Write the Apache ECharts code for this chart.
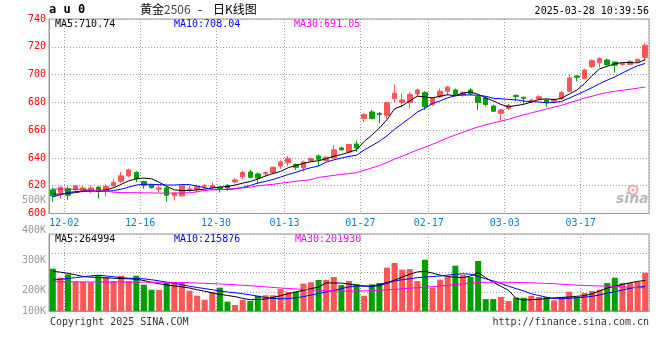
<!DOCTYPE html>
<html><head><meta charset="utf-8">
<script src="https://cdn.jsdelivr.net/npm/echarts@6/dist/echarts.min.js"></script>
<style>html,body{margin:0;padding:0;background:#fff}#c{width:660px;height:360px}</style>
</head><body><div id="c"></div>
<script>
// ---------- data ----------
const dates = ['11-29','12-02','12-03','12-04','12-05','12-06','12-09','12-10','12-11','12-12',
'12-13','12-16','12-17','12-18','12-19','12-20','12-23','12-24','12-25','12-26',
'12-27','12-30','12-31','01-02','01-03','01-06','01-07','01-08','01-09','01-10',
'01-13','01-14','01-15','01-16','01-17','01-20','01-21','01-22','01-23','01-24',
'01-27','02-05','02-06','02-07','02-10','02-11','02-12','02-13','02-14','02-17',
'02-18','02-19','02-20','02-21','02-24','02-25','02-26','02-27','02-28','03-03',
'03-04','03-05','03-06','03-07','03-10','03-11','03-12','03-13','03-14','03-17',
'03-18','03-19','03-20','03-21','03-24','03-25','03-26','03-27','03-28'];
const labelDates = ['12-02','12-16','12-30','01-13','01-27','02-17','03-03','03-17'];

const opens = [617.0,615.1,617.9,617.0,616.5,616.0,618.9,616.5,619.9,623.2,
627.1,629.5,623.0,620.6,617.5,618.4,612.7,612.7,617.2,617.5,
619.6,618.9,618.9,620.3,622.7,626.6,629.9,628.5,628.5,629.4,
634.2,636.6,635.2,632.8,638.1,641.4,638.1,640.0,647.2,644.3,
650.1,668.3,673.1,672.1,670.7,682.7,679.8,679.8,686.0,687.0,
678.4,684.1,688.0,688.9,685.1,688.9,684.1,683.2,677.4,672.1,
675.5,685.1,683.7,680.3,682.7,681.7,680.8,682.7,688.0,699.0,
697.1,705.7,708.6,710.5,709.1,707.2,707.2,709.5,712.4];
const closes = [612.7,618.9,613.1,619.9,618.4,618.4,616.0,619.4,622.3,627.1,
631.4,625.1,620.3,618.7,618.4,613.1,614.6,619.9,617.7,619.4,
620.1,620.3,617.9,618.4,624.2,629.5,626.1,625.6,629.4,633.3,
637.1,639.5,633.3,637.1,639.5,639.0,640.5,645.8,645.8,649.6,
647.2,671.2,668.3,671.2,679.8,686.5,681.7,685.6,688.9,676.9,
682.7,688.0,690.9,685.1,687.0,686.1,679.8,678.4,673.6,674.5,
677.9,684.1,682.7,681.7,684.1,679.8,681.7,687.0,697.6,698.0,
703.3,710.0,711.5,707.2,706.7,708.1,709.5,711.0,721.1];
const lows = [608.6,610.7,609.8,616.0,615.1,614.6,610.7,612.2,618.9,621.8,
626.1,622.7,617.9,617.9,615.1,608.6,609.3,612.2,615.5,615.1,
617.9,617.9,615.1,616.5,621.8,624.6,625.1,621.3,626.6,628.5,
632.3,634.2,631.4,630.4,637.1,634.2,637.6,639.5,645.3,643.4,
644.3,665.9,667.8,664.9,668.3,679.8,676.4,675.5,684.1,674.5,
677.4,683.2,685.1,684.6,684.1,685.1,674.5,676.9,673.1,666.9,
674.5,680.8,678.9,679.8,681.7,676.5,679.8,681.7,687.5,695.2,
696.6,704.8,705.2,706.2,701.4,706.2,706.7,708.1,710.5];
const highs = [618.7,619.4,619.4,620.6,620.3,620.3,619.9,621.3,624.6,629.9,
632.3,630.4,623.7,621.3,620.3,619.4,615.5,620.3,619.9,620.3,
621.3,622.3,619.4,621.3,625.6,630.9,631.4,629.4,630.4,633.8,
638.1,641.4,636.1,638.1,640.5,642.4,641.4,649.3,648.1,650.1,
652.5,672.1,674.5,673.1,680.3,692.8,686.5,687.5,689.9,688.0,
683.6,689.9,691.8,689.9,688.0,690.4,684.6,684.1,678.4,675.5,
678.9,685.6,683.9,682.7,685.1,682.2,682.7,688.4,700.0,699.5,
704.3,711.0,712.4,711.5,709.1,708.6,710.5,711.5,722.5];

const ma5 = [614.0,614.0,614.5,615.0,616.0,616.5,616.5,617.0,618.5,621.0,
623.5,625.0,625.5,625.0,622.5,619.5,617.0,616.5,616.5,617.0,
617.5,618.5,619.0,619.5,620.5,621.8,623.0,624.8,627.0,628.8,
630.3,633.0,634.5,636.1,637.3,638.0,639.4,641.2,642.4,644.1,
645.8,651.9,656.4,661.5,667.5,675.4,677.5,681.0,684.5,683.9,
683.2,684.4,685.5,684.7,686.7,687.4,685.8,683.3,681.0,678.5,
676.8,677.7,678.6,680.2,682.1,682.5,682.0,682.9,686.0,688.8,
693.5,699.2,704.1,706.0,707.7,708.7,708.6,708.5,710.74];
const ma10 = [612.0,613.5,615.0,615.8,616.0,616.2,616.0,616.0,616.5,617.5,
619.0,620.5,621.0,621.0,620.8,620.5,620.5,620.8,620.8,619.8,
618.5,617.5,617.2,617.2,617.8,618.8,620.2,621.9,623.1,624.5,
626.2,628.1,629.6,631.5,633.0,634.2,637.0,638.6,639.9,641.1,
641.9,645.7,648.8,652.0,655.9,660.6,664.7,668.7,673.0,675.8,
679.3,681.0,683.3,684.7,685.4,685.3,685.1,684.4,682.9,682.6,
682.1,681.8,680.9,680.6,680.3,679.7,679.9,680.7,683.1,685.5,
688.0,690.6,693.5,696.0,698.3,701.1,703.9,706.3,708.04];
const ma30 = [617.6,617.6,617.5,617.4,617.3,616.8,616.5,616.2,615.3,615.1,
615.0,615.0,614.9,614.8,614.7,614.7,614.7,614.8,614.9,615.6,
616.6,617.0,617.2,617.5,618.0,618.5,618.9,620.0,620.5,621.0,
621.8,622.5,623.2,623.7,624.4,626.0,626.7,627.4,628.1,628.7,
629.4,631.1,632.8,634.5,636.7,639.1,641.2,643.5,645.8,647.7,
649.8,652.1,654.5,656.5,658.5,660.5,662.3,663.9,665.2,666.5,
667.8,669.5,671.0,672.4,673.8,675.2,676.6,677.9,679.7,681.3,
683.1,684.4,685.9,687.1,688.0,688.7,689.4,690.2,691.05];

const volumes = [368000,290000,319000,255000,255000,250000,313000,296000,261000,307000,
261000,307000,229000,185000,183000,250000,250000,250000,177000,133000,
98000,163000,203000,81000,52000,98000,87000,133000,137000,137000,
191000,168000,168000,238000,250000,270000,270000,296000,226000,261000,
232000,133000,232000,244000,377000,418000,359000,365000,261000,446000,
203000,272000,296000,394000,313000,296000,435000,104000,104000,122000,
87000,116000,116000,133000,122000,122000,93000,122000,168000,122000,
157000,174000,185000,244000,290000,244000,244000,255000,333000];
const volMa5 = [345000,338000,328000,315000,300000,295000,291000,288000,285000,283000,
280000,276000,265000,250000,237000,226000,218000,210000,200000,185000,
172000,158000,145000,135000,125000,110000,98000,100000,104000,118000,
133000,150000,165000,180000,195000,208000,245000,244000,243000,235000,
225000,218000,215000,230000,248000,268000,295000,320000,340000,345000,
330000,312000,300000,294000,290000,305000,335000,290000,250000,215000,
180000,110000,95000,98000,102000,108000,114000,118000,122000,128000,
133000,150000,175000,200000,215000,232000,245000,258000,264994];
const volMa10 = [270000,276000,283000,290000,298000,305000,312000,305000,298000,290000,
285000,283000,280000,272000,262000,250000,240000,228000,215000,205000,
195000,185000,175000,165000,158000,150000,140000,128000,118000,110000,
106000,108000,115000,125000,138000,152000,165000,178000,195000,210000,
218000,216000,215000,220000,240000,262000,272000,280000,290000,296000,
300000,305000,312000,320000,324000,320000,300000,280000,262000,240000,
215000,195000,175000,150000,135000,120000,108000,106000,110000,115000,
120000,128000,140000,155000,168000,182000,197000,207000,215876];
const volMa30 = [255000,255000,254000,254000,253000,253000,252000,252000,252000,252000,
251000,251000,251000,250000,250000,250000,249000,248000,246000,244000,
241000,238000,235000,232000,228000,224000,220000,215000,210000,205000,
200000,196000,192000,188000,184000,180000,176000,175000,174000,174000,
174000,175000,177000,180000,184000,188000,193000,198000,203000,208000,
212000,218000,224000,230000,236000,242000,248000,250000,250000,250000,
250000,249000,247000,245000,243000,240000,237000,233000,229000,225000,
222000,220000,218000,216000,214000,210000,206000,204000,201930];

const priceMin = 600, priceMax = 740, priceStep = 20;
const volMax = 670000;
const volTickValues = [132700, 200000, 300000, 400000, 500000];
const volTickLabels = ['100K', '200K', '300K', '400K', '500K'];

// ---------- chart ----------
const RED = '#ff5555', GREEN = '#00a000';
const MONO = '"DejaVu Sans Mono", "Liberation Mono", monospace';
const labelSet = new Set(labelDates);
const showLabel = (i) => labelSet.has(dates[i]);
const showSplit = (i) => i > 0 && labelSet.has(dates[i - 1]);
const dotted = { color: '#a0a0a0', type: [1, 2], width: 1 };

const candleData = opens.map((o, i) => [o, closes[i], lows[i], highs[i]]);
const volData = volumes.map((v, i) => ({
  value: v,
  itemStyle: { color: closes[i] >= opens[i] ? RED : GREEN }
}));

const chart = echarts.init(document.getElementById('c'), null, { renderer: 'canvas' });
const lineS = (name, data, color, xi, yi) => ({
  name, type: 'line', data, xAxisIndex: xi, yAxisIndex: yi,
  symbol: 'none', showSymbol: false, smooth: false,
  lineStyle: { color, width: 1 }, itemStyle: { color }, z: 5, silent: true
});

chart.setOption({
  animation: false,
  backgroundColor: '#fff',
  grid: [
    { left: 49, right: 11, top: 19, height: 194.5, show: true, borderColor: '#999', borderWidth: 1, backgroundColor: 'transparent' },
    { left: 49, right: 11, top: 234, height: 77, show: true, borderColor: '#999', borderWidth: 1, backgroundColor: 'transparent' },
    { left: 49, right: 11, top: 200, height: 111, show: false }
  ],
  xAxis: [
    { type: 'category', gridIndex: 0, data: dates, boundaryGap: true,
      axisLine: { show: true, lineStyle: { color: '#999' } }, axisTick: { show: false },
      axisLabel: { interval: showLabel, color: '#0a7fd8', fontFamily: MONO, fontSize: 10, margin: 5, padding: [0, 0, 0, 7.6] },
      splitLine: { show: true, interval: showSplit, lineStyle: dotted } },
    { type: 'category', gridIndex: 1, data: dates, boundaryGap: true,
      axisLine: { show: true, lineStyle: { color: '#999' } }, axisTick: { show: false },
      axisLabel: { show: false },
      splitLine: { show: true, interval: showSplit, lineStyle: dotted } },
    { type: 'category', gridIndex: 2, data: dates, show: false }
  ],
  yAxis: [
    { type: 'value', gridIndex: 0, min: priceMin, max: priceMax, interval: priceStep,
      axisLine: { show: true, lineStyle: { color: '#999' } }, axisTick: { show: false },
      axisLabel: { color: '#ff0000', fontFamily: MONO, fontSize: 10, margin: 3 },
      splitLine: { show: true, lineStyle: dotted } },
    { type: 'value', gridIndex: 1, min: 0, max: volMax, interval: volMax / 4,
      axisLine: { show: true, lineStyle: { color: '#999' } }, axisTick: { show: false },
      axisLabel: { show: false },
      splitLine: { show: true, lineStyle: dotted } },
    { type: 'value', gridIndex: 2, min: volTickValues[0], max: volTickValues[4],
      axisLine: { show: false }, axisTick: { show: false }, splitLine: { show: false },
      axisLabel: { customValues: volTickValues, color: '#999', fontFamily: MONO, fontSize: 10, margin: 3,
        showMinLabel: true, showMaxLabel: true,
        formatter: (v) => { const k = volTickValues.indexOf(v); return k >= 0 ? volTickLabels[k] : ''; } } }
  ],
  series: [
    { type: 'candlestick', xAxisIndex: 0, yAxisIndex: 0, data: candleData, barWidth: 5,
      itemStyle: { color: RED, color0: GREEN, borderColor: RED, borderColor0: GREEN, borderWidth: 1 }, z: 3, silent: true },
    lineS('MA5', ma5, '#000000', 0, 0),
    lineS('MA10', ma10, '#0000ff', 0, 0),
    lineS('MA30', ma30, '#ff00ff', 0, 0),
    { type: 'bar', xAxisIndex: 1, yAxisIndex: 1, data: volData, barWidth: 6, z: 3, silent: true },
    lineS('VMA5', volMa5, '#000000', 1, 1),
    lineS('VMA10', volMa10, '#0000ff', 1, 1),
    lineS('VMA30', volMa30, '#ff00ff', 1, 1),
    { type: 'line', xAxisIndex: 2, yAxisIndex: 2, data: [], symbol: 'none' }
  ],
  graphic: [
    { type: 'text', left: 49, top: 4, style: { text: 'a u 0', font: 'bold 12px ' + MONO, fill: '#000' } },
    { type: 'text', left: 140, top: 3, style: { text: '黄金{g|2506}', font: '12px "Noto Sans CJK SC"', fill: '#000',
      rich: { g: { font: '12px "Noto Sans CJK SC"', fill: '#444' } } } },
    { type: 'text', left: 198, top: 3, style: { text: '-', font: '12px "Noto Sans CJK SC"', fill: '#000' } },
    { type: 'text', left: 213, top: 3, style: { text: '日K线图', font: '12px "Noto Sans CJK SC"', fill: '#000' } },
    { type: 'text', right: 11, top: 6, style: { text: '2025-03-28 10:39:56', font: '10px ' + MONO, fill: '#000' } },
    { type: 'text', left: 55, top: 19, style: { text: 'MA5:' + ma5[ma5.length - 1].toFixed(2), font: '10px ' + MONO, fill: '#000' } },
    { type: 'text', left: 174, top: 19, style: { text: 'MA10:' + ma10[ma10.length - 1].toFixed(2), font: '10px ' + MONO, fill: '#0000ff' } },
    { type: 'text', left: 294, top: 19, style: { text: 'MA30:' + ma30[ma30.length - 1].toFixed(2), font: '10px ' + MONO, fill: '#ff00ff' } },
    { type: 'text', left: 55, top: 234, style: { text: 'MA5:' + volMa5[volMa5.length - 1], font: '10px ' + MONO, fill: '#000' } },
    { type: 'text', left: 174, top: 234, style: { text: 'MA10:' + volMa10[volMa10.length - 1], font: '10px ' + MONO, fill: '#0000ff' } },
    { type: 'text', left: 295, top: 234, style: { text: 'MA30:' + volMa30[volMa30.length - 1], font: '10px ' + MONO, fill: '#ff00ff' } },
    { type: 'text', left: 50, top: 317, style: { text: 'Copyright 2025 SINA.COM', font: '10px ' + MONO, fill: '#333' } },
    { type: 'text', right: 11, top: 317, style: { text: 'http://finance.sina.com.cn', font: '10px ' + MONO, fill: '#333' } },
    { type: 'circle', shape: { cx: 633, cy: 190, r: 4.5 }, style: { fill: 'none', stroke: '#f4a6a6', lineWidth: 2 }, z: 1 },
    { type: 'circle', shape: { cx: 633, cy: 190, r: 1.5 }, style: { fill: '#f4a6a6' }, z: 1 },
    { type: 'text', left: 616, top: 192, style: { text: 'sina', font: 'italic bold 14px "DejaVu Sans"', fill: '#b8b8b8' }, z: 1 }
  ]
});
</script>
</body></html>
